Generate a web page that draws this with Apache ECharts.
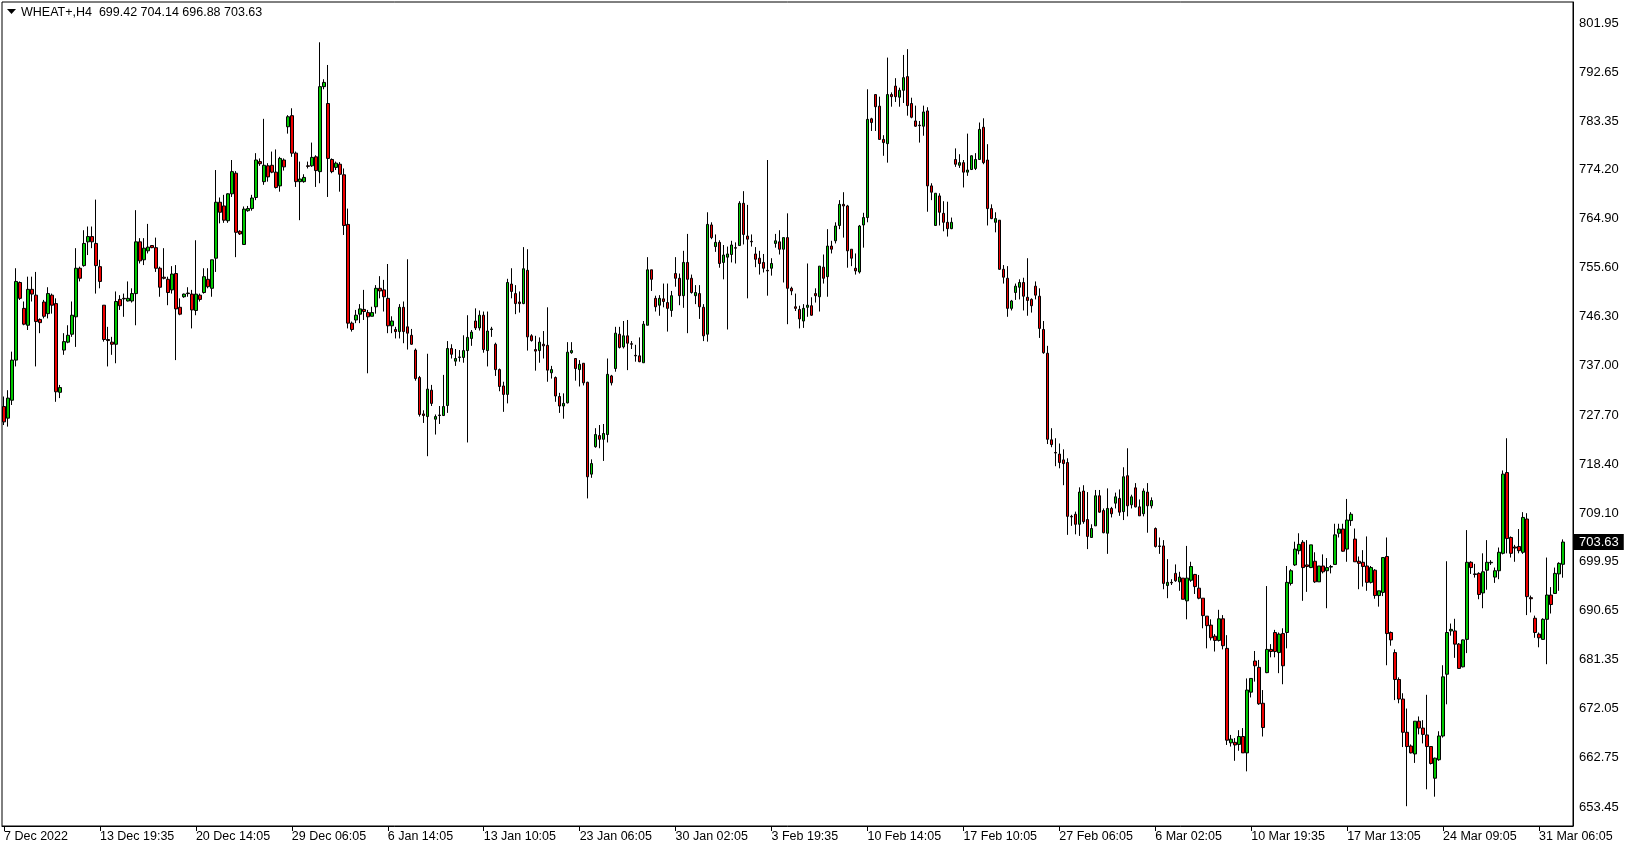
<!DOCTYPE html>
<html><head><meta charset="utf-8">
<script src="https://cdn.jsdelivr.net/npm/echarts@6/dist/echarts.min.js"></script>
<style>html,body{margin:0;padding:0;background:#fff;} #chart{width:1629px;height:850px;}</style>
</head><body><div id="chart"></div>
<script>
const symbolName = 'WHEAT+';
const timeframe = 'H4';
const tickLabels = ['7 Dec 2022','13 Dec 19:35','20 Dec 14:05','29 Dec 06:05','6 Jan 14:05','13 Jan 10:05','23 Jan 06:05','30 Jan 02:05','3 Feb 19:35','10 Feb 14:05','17 Feb 10:05','27 Feb 06:05','6 Mar 02:05','10 Mar 19:35','17 Mar 13:05','24 Mar 09:05','31 Mar 06:05'];
const labelEvery = 24;
const priceTicks = [653.45, 662.75, 672.05, 681.35, 690.65, 699.95, 709.10, 718.40, 727.70, 737.00, 746.30, 755.60, 764.90, 774.20, 783.35, 792.65, 801.95];

// each candle: [open, close, low, high]
const candlesA = [
[729.3,726.4,725.8,731.2],[727.1,730.9,725.5,732.4],[730.5,738.1,729.6,739.7],[738.1,753.0,736.9,755.5],[752.8,749.8,749.5,753.0],
[747.9,744.9,744.7,749.2],[744.7,751.5,743.8,753.9],[751.5,750.6,749.2,753.9],[750.4,745.4,736.9,754.8],[745.8,745.2,743.2,746.0],
[749.1,746.4,746.0,749.5],[746.9,750.7,746.0,751.9],[750.4,748.5,746.9,750.7],[748.8,732.1,730.2,749.8],[732.0,732.9,730.9,733.4],
[740.0,741.6,739.1,743.2],[741.5,742.8,741.3,744.7],[743.0,746.6,742.5,749.2],[746.3,755.5,740.6,759.3],[755.5,753.6,753.0,755.8],
[756.0,760.2,755.8,762.7],[760.5,761.5,758.0,763.4],[761.5,760.5,759.3,763.4],[760.2,756.0,750.7,768.5],[755.8,753.0,751.7,757.1],
[748.5,742.0,741.6,748.5],[742.0,741.8,736.9,744.4],[741.5,741.1,739.1,742.5],[741.1,749.2,737.5,751.1],[749.6,748.4,747.6,750.4],
[749.8,749.7,746.3,750.7],[749.3,749.8,749.2,753.0],[749.3,750.7,749.0,751.7],[750.7,760.5,744.7,766.5],[760.5,756.9,756.4,761.2],
[757.1,759.3,756.1,761.2],[758.8,759.5,758.3,763.9],[759.8,759.4,759.3,759.9],[759.4,755.5,754.8,761.3],[755.5,751.9,750.1,755.8],
[753.8,753.6,753.4,759.3],[753.4,750.9,748.5,753.9],[751.4,754.4,750.7,755.9],[754.5,747.8,738.1,756.1],[748.1,746.8,746.6,749.8],
[750.1,750.6,749.9,750.7],[750.8,750.7,750.1,751.9],[750.6,747.6,744.1,751.4],[747.5,750.6,746.6,760.8],[750.4,749.6,749.2,750.7],
[750.9,753.9,750.7,755.5],[753.4,752.0,751.7,755.5],[751.7,757.1,750.1,757.1],[757.4,768.0,754.8,774.1],[768.0,766.1,764.0,768.9],
[767.3,764.6,764.1,769.4],[764.5,769.6,764.1,769.7],[769.6,773.8,769.0,776.0],[773.5,762.3,757.6,773.9],[762.5,762.0,761.8,762.7],
[760.0,766.7,759.9,767.2],[766.4,766.8,766.2,767.3],[766.8,768.8,766.4,769.4],[768.9,776.0,768.4,777.3],[775.7,775.3,774.9,776.3],
[771.9,775.0,771.3,783.8],[774.9,772.8,771.9,775.4],[775.0,773.7,773.5,777.6],[773.7,770.8,770.6,778.0],[771.1,776.3,770.0,776.6],
[776.0,774.7,774.0,776.3],[782.3,784.2,781.0,784.5],[784.4,777.3,776.6,785.8],[777.3,771.9,770.9,777.6],[771.9,772.4,764.6,775.7],
[771.9,772.7,771.7,773.3],[774.9,774.8,774.4,775.7],[774.9,776.5,774.7,779.3],[776.6,774.0,770.9,776.9],[773.8,789.9,771.6,798.3],
[789.9,790.7,789.4,791.3],[786.7,776.3,769.0,794.0],[776.1,773.8,773.5,776.3],[774.6,775.4,774.1,775.7],[775.2,773.3,770.0,775.6],
[773.2,763.6,761.8,774.4],[763.8,745.1,744.1,766.8],[745.1,743.9,743.5,745.4],[745.7,746.6,745.1,747.6],[746.8,747.8,745.1,748.7],
[747.7,747.3,745.7,751.4],[747.1,746.3,735.6,747.6],[746.4,747.1,746.4,748.2],[748.2,751.7,746.9,752.3],[751.7,751.2,749.8,754.0],
[751.4,750.1,747.3,753.3],[749.8,744.6,743.2,756.3],[744.6,745.5,743.2,746.4],[743.9,743.5,742.2,744.4],[743.5,748.1,742.2,748.7]
];
const candlesB = [
[748.1,743.5,741.3,749.2],[744.4,743.2,740.1,757.2],[742.8,741.1,741.0,744.0],[740.0,734.6,734.2,740.3],[734.8,727.8,727.4,735.1],
[727.9,727.6,726.2,728.6],[727.4,732.6,719.9,739.3],[732.4,729.9,729.4,733.4],[726.9,727.4,724.0,727.8],[727.7,727.6,726.0,729.4],
[727.6,729.3,727.5,735.3],[729.5,740.3,728.1,741.7],[740.3,739.2,738.4,741.1],[737.9,738.4,737.0,740.2],[738.6,738.7,737.8,740.0],
[738.6,739.9,737.6,742.8],[739.9,742.4,722.5,746.6],[742.2,743.4,740.8,743.8],[745.5,744.2,743.8,747.9],[744.2,746.6,743.7,747.5],
[746.6,740.1,739.5,747.3],[739.9,743.6,736.9,747.3],[743.9,744.0,742.5,744.4],[741.1,736.3,735.1,741.4],[736.3,733.1,732.2,736.5],
[733.2,731.6,728.3,734.0],[731.6,752.8,729.9,753.5],[752.5,751.1,749.8,755.5],[750.7,748.8,746.8,752.3],[749.1,748.8,747.1,751.1],
[748.8,755.4,748.7,759.5],[755.1,742.5,739.9,759.1],[742.7,741.8,741.6,743.0],[740.1,739.8,736.1,742.7],[739.9,741.5,737.6,742.4],
[741.1,740.8,738.4,743.6],[740.9,736.2,734.0,748.1],[735.7,736.3,734.6,737.0],[734.8,731.3,730.2,735.0],[731.2,729.4,728.1,731.9],
[729.4,729.9,727.0,731.8],[730.0,739.6,729.9,741.5],[739.5,739.9,739.3,741.5],[738.4,736.5,734.2,738.4],[736.3,737.3,733.1,738.1],
[737.5,733.8,733.3,737.5],[733.9,716.0,711.9,734.0],[716.5,718.5,715.8,719.3],[721.7,724.0,721.5,725.2],[723.8,723.1,721.4,725.8],
[723.1,724.2,719.0,726.0],[724.0,735.4,722.5,738.4],[735.1,733.8,733.3,735.3],[736.5,743.2,735.9,744.4],[743.0,740.5,740.3,744.4],
[740.6,742.7,740.3,745.5],[742.7,741.3,736.2,745.7],[741.2,741.1,740.2,741.7],[739.0,738.9,737.8,741.0],[738.9,737.8,737.7,742.4],
[737.6,744.9,737.6,745.5],[744.7,755.2,744.7,757.6],[755.2,753.4,751.2,755.2],[749.8,748.2,747.3,750.3],[748.5,749.8,746.5,750.4],
[749.7,749.2,748.1,752.6],[749.0,747.9,743.5,752.6],[747.5,750.3,746.3,751.2],[754.5,753.6,752.0,757.6],[753.6,750.3,748.5,754.5],
[750.3,756.6,748.0,758.8],[756.6,753.4,743.2,762.0],[753.6,750.9,750.7,754.3],[750.3,750.9,748.7,752.3],[750.7,748.2,745.9,752.3],
[748.1,742.7,741.7,748.7],[743.0,763.8,741.6,766.1],[763.7,761.3,761.0,764.2],[759.6,760.4,758.6,761.9],[760.4,756.4,755.6,760.8],
[756.6,758.0,753.4,759.9],[757.6,758.2,743.9,759.6],[758.1,759.9,756.6,760.7],[759.4,759.3,756.4,760.4],[759.8,767.8,759.8,768.2],
[767.8,761.9,760.0,770.1],[761.6,761.0,749.8,767.5],[760.6,760.5,759.6,761.9],[758.2,757.2,755.7,759.5],[757.4,756.4,754.3,758.8],
[756.6,755.5,754.7,758.2],[755.1,755.0,750.3,776.0],[755.5,756.4,754.1,757.4],[760.2,760.7,759.4,762.0],[760.5,759.1,758.1,762.7],
[759.1,761.3,752.8,761.3],[761.3,751.7,744.9,765.9],[751.7,751.2,750.4,752.0],[748.2,747.9,747.4,750.7],[747.7,745.9,744.1,748.4]
];
const candlesC = [
[745.5,747.9,744.2,748.7],[748.1,748.5,746.3,756.4],[748.4,746.6,746.5,750.0],[750.7,750.3,749.0,751.7],[750.1,755.9,747.3,755.9],
[755.7,753.6,752.6,758.1],[753.9,759.7,750.1,762.9],[759.7,759.1,758.3,760.7],[760.7,763.5,760.2,764.2],[763.6,767.6,762.9,768.4],
[767.6,767.3,761.3,769.9],[767.3,758.8,755.6,767.5],[759.1,757.4,755.9,759.1],[755.5,755.0,754.3,758.3],[754.8,763.5,754.5,763.7],
[763.7,765.1,759.4,766.0],[765.1,783.7,764.2,789.4],[783.8,783.1,781.5,784.0],[788.4,786.1,781.5,788.4],[786.2,779.9,779.8,788.0],
[779.9,779.3,776.8,780.7],[779.1,788.4,775.5,795.4],[788.4,788.0,786.1,788.8],[790.0,788.0,787.0,791.5],[787.9,789.2,786.1,789.7],
[789.2,791.6,786.8,795.9],[791.8,786.3,784.4,797.0],[786.7,784.1,783.9,787.8],[783.4,782.4,782.3,786.3],[782.6,782.5,779.3,783.4],
[782.4,785.1,780.6,786.3],[785.3,771.1,766.2,786.0],[771.1,769.9,768.4,771.6],[763.6,769.7,763.6,769.7],[769.2,766.1,763.6,769.7],
[765.9,764.2,762.5,768.2],[764.2,763.0,761.5,768.1],[763.0,764.2,762.9,765.1],[776.1,775.2,774.7,778.2],[775.0,775.5,774.5,777.1],
[775.5,773.7,770.8,776.0],[773.7,774.1,773.0,781.0],[774.2,776.8,774.1,776.9],[774.4,776.1,774.1,777.3],[776.1,781.8,776.0,783.1],
[782.2,775.5,775.2,783.9],[776.0,766.8,763.6,779.0],[766.8,764.9,764.8,767.6],[764.2,764.9,762.3,766.1],[764.6,755.3,755.2,764.6],
[755.3,753.8,752.6,756.1],[753.6,747.9,746.3,755.9],[747.9,749.3,747.5,749.5],[750.9,752.1,749.5,752.6],[751.9,752.8,749.6,753.4],
[752.8,750.2,747.5,753.7],[750.0,749.4,746.5,757.4],[749.6,748.4,747.1,749.8],[752.1,750.4,749.6,753.0],[750.2,744.1,742.3,751.7],
[743.9,739.5,739.3,745.5],[739.4,723.1,722.2,740.8],[723.0,722.1,721.6,725.2],[720.6,720.5,718.0,723.3],[720.3,718.7,717.6,722.3],
[719.2,718.5,714.4,721.2],[718.7,708.5,705.0,719.5],[708.5,708.4,706.7,708.8],[708.9,707.0,705.1,709.4],[707.0,713.1,704.8,714.0],
[713.3,707.5,707.1,714.4],[707.9,704.7,702.3,713.1],[704.5,706.2,704.5,707.0],[706.7,712.4,706.7,713.5],[712.4,709.3,709.2,713.5],
[709.6,705.4,705.3,710.0],[705.3,710.0,701.4,713.8],[710.0,709.0,708.3,710.3],[711.0,712.2,710.0,713.0],[711.9,709.3,708.6,713.6],
[709.4,716.0,707.8,717.8],[716.2,710.5,708.5,721.4],[710.7,712.2,710.0,712.6],[713.9,710.3,710.2,714.8],[710.3,708.6,708.6,711.7],
[709.0,713.3,708.5,713.8],[713.1,710.5,705.4,714.8],[710.5,711.5,710.0,712.1],[706.2,702.8,702.6,706.4],[702.9,702.8,701.4,704.5],
[702.9,695.8,694.7,704.0],[695.4,696.0,693.0,700.4],[696.0,695.9,695.5,696.6],[697.7,696.3,696.1,699.4],[696.1,697.0,694.4,698.0],
[696.8,692.8,692.8,696.8],[692.5,696.8,689.0,702.9],[696.4,699.0,696.1,699.9],[697.5,695.2,693.8,697.6],[694.9,693.0,692.8,697.4]
];
const candlesD = [
[693.0,689.7,687.3,693.0],[689.6,687.8,683.5,689.6],[687.9,685.5,685.0,689.0],[685.8,685.0,682.9,686.2],[685.0,689.1,684.8,690.8],
[689.1,684.0,683.3,689.8],[683.5,666.1,665.2,686.0],[665.6,666.3,664.9,667.1],[665.7,665.2,662.2,666.5],[665.3,666.8,664.1,668.0],
[666.8,663.7,663.7,668.4],[663.7,675.6,660.2,677.8],[675.2,677.8,674.2,677.8],[681.1,680.2,677.2,683.0],[679.9,673.0,672.8,681.3],
[673.1,668.5,666.8,675.6],[678.9,683.3,678.8,695.3],[683.3,682.9,681.8,684.3],[686.5,682.9,681.8,687.0],[682.7,686.2,678.8,686.5],
[686.3,680.2,676.7,687.3],[686.5,696.0,683.5,699.1],[695.8,698.2,695.4,698.5],[699.3,702.3,699.1,703.7],[702.0,703.2,701.3,705.3],
[703.6,698.8,692.5,704.0],[699.3,699.0,694.2,704.0],[698.8,703.1,698.7,703.1],[700.0,696.1,695.9,701.7],[696.1,699.1,696.1,699.1],
[699.1,698.0,697.7,701.3],[698.2,698.8,691.1,700.6],[698.9,699.0,697.7,699.3],[699.4,705.0,699.4,707.1],[705.3,706.1,704.5,707.1],
[706.1,701.9,701.8,707.1],[702.3,707.8,699.9,711.8],[707.7,708.9,706.7,709.3],[704.2,699.9,699.9,706.2],[700.0,699.6,694.7,700.9],
[699.8,699.0,695.2,702.1],[699.1,696.0,694.4,704.7],[696.0,698.8,695.8,699.1],[698.3,693.5,692.9,698.5],[693.5,694.4,691.4,694.4],
[694.1,700.7,693.4,700.7],[700.9,686.3,680.3,704.5],[686.5,685.1,684.0,686.7],[682.7,677.6,673.7,683.3],[677.6,673.9,673.1,678.0],
[673.9,667.6,664.8,675.0],[667.6,664.9,653.6,672.1],[665.0,663.7,663.6,665.3],[663.5,669.7,661.8,669.7],[669.7,668.4,667.2,670.6],
[668.4,667.2,665.5,669.9],[667.1,664.9,656.8,674.7],[664.9,661.7,661.5,664.9],[658.9,662.7,655.4,662.8],[662.4,666.9,662.2,667.8],
[666.9,678.1,666.6,680.3],[678.6,686.5,672.9,700.0],[686.8,687.1,685.9,688.2],[686.8,684.3,681.7,689.1],[684.3,679.7,679.6,684.5],
[680.0,685.1,679.9,685.2],[685.2,699.8,682.6,705.9],[699.8,698.8,697.6,700.0],[697.6,697.5,696.9,699.5],[697.7,693.7,692.8,697.9],
[694.0,698.0,691.1,701.5],[698.3,699.8,694.6,704.0],[699.7,699.8,699.3,700.2],[697.0,698.2,695.9,698.8],[698.2,701.7,696.6,702.6],
[701.5,716.5,701.3,717.2],[716.8,704.3,701.5,723.3],[704.5,701.5,700.7,704.7],[702.7,702.5,699.9,703.1],[702.8,702.0,701.5,706.1],
[701.7,708.3,701.4,709.3],[708.0,693.3,689.8,709.1],[693.1,692.9,690.3,693.5],[689.2,686.5,685.5,689.7],[686.2,685.5,683.7,686.5],
[685.2,689.0,685.1,689.2],[689.0,693.6,680.5,700.7],[693.6,691.8,690.1,695.1],[693.9,697.7,693.8,698.8],[697.6,699.6,694.4,699.8],
[699.42,703.63,696.88,704.14]
];

const candles = candlesA.concat(candlesB, candlesC, candlesD);
const emptySlots = 2;
const categories = [];
for (let i = 0; i < candles.length + emptySlots; i++) categories.push(String(i));
const last = candles[candles.length - 1];
const FONT = '"Liberation Sans", Arial, sans-serif';
const showTick = (i) => i % labelEvery === 0 && i / labelEvery < tickLabels.length;

const chart = echarts.init(document.getElementById('chart'), null, {renderer: 'canvas'});
chart.setOption({
  animation: false,
  backgroundColor: '#ffffff',
  textStyle: {fontFamily: FONT},
  title: {
    text: symbolName + ',' + timeframe + '  ' + last[0].toFixed(2) + ' ' + last[3].toFixed(2) + ' ' + last[2].toFixed(2) + ' ' + last[1].toFixed(2),
    left: 21, top: 6, padding: 0,
    textStyle: {fontSize: 12.5, fontWeight: 'normal', color: '#000', fontFamily: FONT}
  },
  graphic: [{type: 'polygon', shape: {points: [[7, 9], [16, 9], [11.5, 14]]}, style: {fill: '#000'}}],
  grid: {left: 2, top: 2, width: 1571, height: 824, show: true, borderColor: '#000', borderWidth: 1, backgroundColor: '#fff'},
  xAxis: {
    type: 'category', data: categories, boundaryGap: true,
    axisLine: {show: true, lineStyle: {color: '#000', width: 1}},
    axisTick: {show: true, alignWithLabel: true, interval: showTick, length: 5, lineStyle: {color: '#000'}},
    axisLabel: {interval: showTick, formatter: (v, i) => (tickLabels[i / labelEvery] || ''), align: 'left', margin: 4,
      color: '#000', fontSize: 12.5, fontFamily: FONT},
    splitLine: {show: false}
  },
  yAxis: {
    type: 'value', position: 'right', min: 649.85, max: 805.93,
    axisLine: {show: true, lineStyle: {color: '#000'}},
    axisTick: {show: false},
    splitLine: {show: false},
    axisLabel: {customValues: priceTicks, formatter: (v) => v.toFixed(2), margin: 6, color: '#000', fontSize: 13, fontFamily: FONT}
  },
  series: [{
    type: 'candlestick',
    data: candles,
    barWidth: 3,
    itemStyle: {color: '#00c800', color0: '#ee0000', borderColor: '#000', borderColor0: '#000', borderWidth: 1},
    markLine: {
      silent: true, symbol: ['none', 'none'], animation: false,
      lineStyle: {color: 'rgba(0,0,0,0)', width: 1, type: 'solid'},
      label: {show: true, position: 'end', distance: 0, formatter: () => last[1].toFixed(2), color: '#fff',
        backgroundColor: '#000', padding: [2, 5, 1, 6], fontSize: 13, fontFamily: FONT},
      data: [{yAxis: last[1]}]
    }
  }]
});
</script></body></html>
